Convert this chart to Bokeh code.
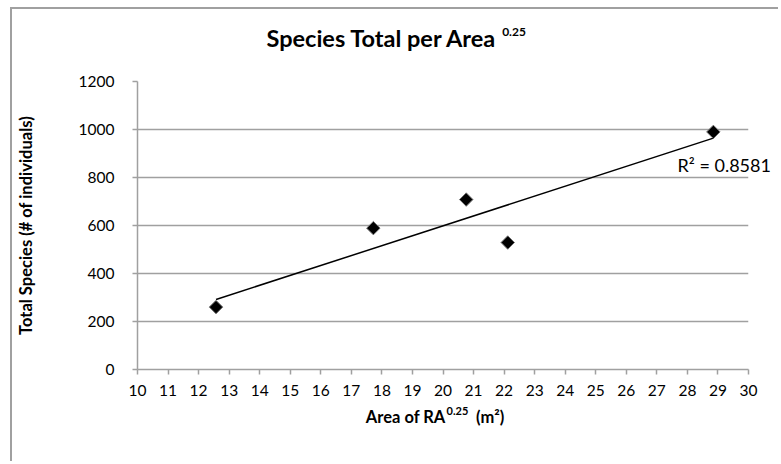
import numpy as np
from bokeh.plotting import figure
from bokeh.models import Range1d, SingleIntervalTicker, FixedTicker, LinearAxis
from bokeh.embed import file_html
from bokeh.resources import INLINE

# Data
area_x = [12.57, 17.72, 20.76, 22.12, 28.85]
species_y = [260, 589, 708, 529, 990]
r2_text = "R\u00b2 = 0.8581"
title_text = "Species Total per Area"
x_title = "Area of RA"
x_unit = "(m\u00b2)"
y_title = "Total Species (# of individuals)"
sup_text = "0.25"

FONT = "Lato"
GREY = "#a0a0a0"

# canvas starts at page (12, 9): 10/7 px margin + 2 px border
p = figure(width=768, height=454, output_backend="svg", toolbar_location=None,
           x_range=Range1d(10, 30), y_range=Range1d(0, 1200),
           min_border_left=121, min_border_right=32, min_border_top=72, min_border_bottom=94)
p.outline_line_color = None
p.background_fill_color = "white"
p.border_fill_color = "white"
p.styles = {"margin-left": "10px", "margin-top": "7px",
            "border-left": "2px solid " + GREY, "border-top": "2px solid " + GREY,
            "border-right": "none", "border-bottom": "none"}

# pixel-space helper ranges (frame spans x 133..748, y 81..369 on the page)
p.extra_x_ranges = {"px": Range1d(133, 748)}
p.extra_y_ranges = {"py": Range1d(369, 81)}

# axes
p.xaxis.ticker = SingleIntervalTicker(interval=1)
p.yaxis.ticker = SingleIntervalTicker(interval=200)
for ax in (p.xaxis[0], p.yaxis[0]):
    ax.axis_line_color = GREY
    ax.axis_line_width = 1.5
    ax.major_tick_line_color = GREY
    ax.major_tick_line_width = 1.5
    ax.major_tick_in = 0
    ax.major_tick_out = 5
    ax.minor_tick_line_color = None
    ax.major_label_text_font = FONT
    ax.major_label_text_font_size = "15.5px"
    ax.major_label_text_color = "#000000"
p.xaxis.major_label_standoff = 10
p.yaxis.major_label_standoff = 18
p.yaxis.axis_label = y_title
p.yaxis.axis_label_text_font = FONT
p.yaxis.axis_label_text_font_style = "bold"
p.yaxis.axis_label_text_font_size = "16.5px"
p.yaxis.axis_label_text_color = "#000000"
p.yaxis.axis_label_standoff = 40

p.xgrid.grid_line_color = None
p.ygrid.grid_line_color = GREY
p.ygrid.grid_line_width = 1.5

# trend line (least squares fit of the data)
slope, intercept = np.polyfit(area_x, species_y, 1)
tx = [min(area_x), max(area_x)]
ty = [slope * v + intercept for v in tx]
p.line(tx, ty, line_color="black", line_width=1.5)

# points
p.scatter(area_x, species_y, marker="square", angle=np.pi / 4, size=9.5, fill_color="black",
          line_color="#707070", line_width=1)


def text_axis(side, labels, size, standoff, bold=True):
    """Axis used only to place free text outside the plot frame."""
    kw = dict(x_range_name="px") if side in ("above", "below") else dict(y_range_name="py")
    ax = LinearAxis(ticker=FixedTicker(ticks=list(labels.keys())), **kw)
    ax.major_label_overrides = labels
    ax.axis_line_color = None
    ax.major_tick_line_color = None
    ax.major_tick_out = 0
    ax.major_tick_in = 0
    ax.minor_tick_line_color = None
    ax.major_label_standoff = standoff
    ax.major_label_text_font = FONT
    ax.major_label_text_font_size = size
    ax.major_label_text_font_style = "bold" if bold else "normal"
    ax.major_label_text_color = "#000000"
    p.add_layout(ax, side)
    return ax

# title and its superscript
text_axis("above", {379: title_text}, "23.5px", 30)
text_axis("above", {512: sup_text}, "12px", -15)
# x axis title pieces
text_axis("below", {403: x_title, 488: x_unit}, "16.5px", 8)
text_axis("below", {455: sup_text}, "11px", -23)
# R^2 label
text_axis("right", {164: r2_text}, "18px", -71, bold=False)

open("out.html", "w").write(file_html(p, INLINE))
